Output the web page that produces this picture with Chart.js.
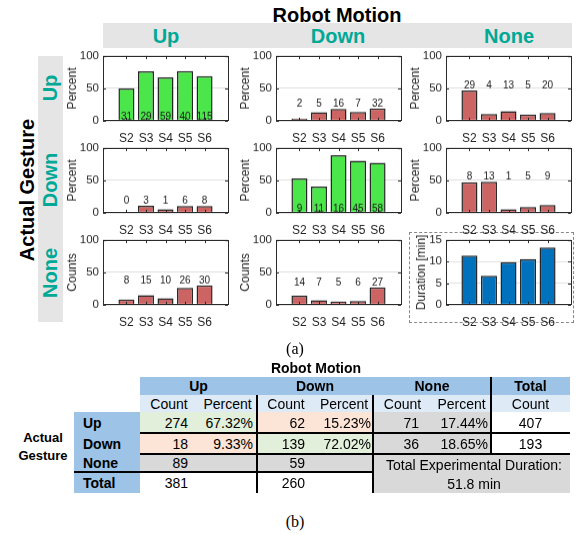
<!DOCTYPE html>
<html>
<head>
<meta charset="utf-8">
<script src="https://cdn.jsdelivr.net/npm/chart.js@4.4.1/dist/chart.umd.min.js"></script>
<style>
  body { margin: 0; width: 576px; height: 535px; background: #fff; position: relative; overflow: hidden;
         font-family: 'Liberation Sans', Arial, sans-serif; color: #000; }
  .abs { position: absolute; }
  .txt { position: absolute; white-space: nowrap; transform: translate(-50%, -50%); }
  canvas { position: absolute; }
</style>
</head>
<body>
<script>
// ---- data ----
const sessions = ['S2', 'S3', 'S4', 'S5', 'S6'];
const sessionNums = [2, 3, 4, 5, 6];
const motions = ['Up', 'Down', 'None'];

// percent of each actual gesture per session (rows: actual gesture, cols: robot motion)
const upUpPct = [50.0, 76.3, 67.0, 76.9, 68.9];
const upUpN = [31, 29, 59, 40, 115];
const upDownPct = [3.2, 13.2, 18.2, 13.5, 19.2];
const upDownN = [2, 5, 16, 7, 32];
const upNonePct = [46.8, 10.5, 14.8, 9.6, 12.0];
const upNoneN = [29, 4, 13, 5, 20];

const downUpPct = [0, 11.1, 5.6, 10.7, 10.7];
const downUpN = [0, 3, 1, 6, 8];
const downDownPct = [52.9, 40.7, 88.9, 80.4, 77.3];
const downDownN = [9, 11, 16, 45, 58];
const downNonePct = [47.1, 48.1, 5.6, 8.9, 12.0];
const downNoneN = [8, 13, 1, 5, 9];

const noneUpN = [8, 15, 10, 26, 30];
const noneDownN = [14, 7, 5, 6, 27];
const durationMin = [11.4, 6.7, 9.9, 10.6, 13.3];

// summary table
const tblUpCount = [274, 62, 71];
const tblUpPct = ['67.32%', '15.23%', '17.44%'];
const tblUpTotal = 407;
const tblDownCount = [18, 139, 36];
const tblDownPct = ['9.33%', '72.02%', '18.65%'];
const tblDownTotal = 193;
const tblNoneCount = [89, 59];
const tblTotalCount = [381, 260];
const totalDuration = '51.8 min';

// ---- style ----
const GREEN = '#4ae64a';
const RED = '#cc6464';
const BLUE = '#0072bd';
const TEAL = '#00a896';
const AXIS = '#262626';

Chart.defaults.font.family = "'Liberation Sans', Arial, sans-serif";
Chart.defaults.color = AXIS;

function text(str, cx, cy, style, rot) {
  const d = document.createElement('div');
  d.className = 'txt';
  d.textContent = str;
  d.style.left = cx + 'px';
  d.style.top = cy + 'px';
  d.style.cssText += style || '';
  if (rot) d.style.transform = 'translate(-50%, -50%) rotate(-90deg)';
  document.body.appendChild(d);
  return d;
}
function rect(x, y, w, h, style) {
  const d = document.createElement('div');
  d.className = 'abs';
  d.style.cssText += `left:${x}px;top:${y}px;width:${w}px;height:${h}px;` + style;
  document.body.appendChild(d);
  return d;
}

// ---- figure (a) frame ----
rect(103, 23, 469, 25, 'background:#e5e5e5');
rect(38, 56, 25, 266, 'background:#e5e5e5');
rect(409, 232, 165, 91, 'border:1.5px dashed #888;box-sizing:border-box');
text('Robot Motion', 337, 15, 'font-weight:bold;font-size:20px');
text('Actual Gesture', 27, 190, 'font-weight:bold;font-size:20px', true);

const colLeft = [103, 276, 446];
const rowTop = [56, 148, 240];
const BOX_W = 125, BOX_H = 65;
const headCx = [166, 338, 509];
const rowCy = [88, 180, 273];
motions.forEach((m, i) => {
  text(m, headCx[i], 36, `font-weight:bold;font-size:20px;color:${TEAL}`);
  text(m, 50, rowCy[i], `font-weight:bold;font-size:20px;color:${TEAL}`, true);
});

// small inward ticks on all four sides, like the original axes
const tickPlugin = {
  id: 'tickPlugin',
  afterDatasetsDraw(chart) {
    const { ctx, chartArea: a, scales: { x, y } } = chart;
    ctx.save();
    ctx.strokeStyle = AXIS;
    ctx.lineWidth = 1;
    ctx.beginPath();
    x.ticks.forEach(t => {
      const px = Math.round(x.getPixelForValue(t.value)) + 0.5;
      ctx.moveTo(px, a.top); ctx.lineTo(px, a.top + 3);
      ctx.moveTo(px, a.bottom); ctx.lineTo(px, a.bottom - 3);
    });
    y.ticks.forEach(t => {
      const py = Math.round(y.getPixelForValue(t.value)) + 0.5;
      ctx.moveTo(a.left, py); ctx.lineTo(a.left + 3, py);
      ctx.moveTo(a.right, py); ctx.lineTo(a.right - 3, py);
    });
    ctx.stroke();
    ctx.restore();
  }
};

// count labels above (or inside) the bars
const barLabels = {
  id: 'barLabels',
  afterDatasetsDraw(chart, args, opts) {
    if (!opts.counts) return;
    const { ctx, scales: { x, y } } = chart;
    const vals = chart.data.datasets[0].data.map(d => d.y);
    const at = opts.inside ? 6 : Math.max(...vals) + 7.5;
    ctx.save();
    ctx.font = "10px 'Liberation Sans', Arial, sans-serif";
    ctx.fillStyle = '#1a1a1a';
    ctx.textAlign = 'center';
    ctx.textBaseline = 'middle';
    opts.counts.forEach((c, i) => ctx.fillText(String(c), x.getPixelForValue(sessionNums[i]), y.getPixelForValue(at)));
    ctx.restore();
  }
};

const panels = [
  { r: 0, c: 0, v: upUpPct, n: upUpN, color: GREEN, inside: true, title: 'Percent', max: 100, step: 25 },
  { r: 0, c: 1, v: upDownPct, n: upDownN, color: RED, title: 'Percent', max: 100, step: 25 },
  { r: 0, c: 2, v: upNonePct, n: upNoneN, color: RED, title: 'Percent', max: 100, step: 25 },
  { r: 1, c: 0, v: downUpPct, n: downUpN, color: RED, title: 'Percent', max: 100, step: 25 },
  { r: 1, c: 1, v: downDownPct, n: downDownN, color: GREEN, inside: true, title: 'Percent', max: 100, step: 25 },
  { r: 1, c: 2, v: downNonePct, n: downNoneN, color: RED, title: 'Percent', max: 100, step: 25 },
  { r: 2, c: 0, v: noneUpN, n: noneUpN, color: RED, title: 'Counts', max: 100, step: 25 },
  { r: 2, c: 1, v: noneDownN, n: noneDownN, color: RED, title: 'Counts', max: 100, step: 25 },
  { r: 2, c: 2, v: durationMin, n: null, color: BLUE, title: 'Duration [min]', max: 15, step: 5, titlePad: 13 },
];

const AX_W = 45, AX_H = 22, PAD_R = 8;

function makeChart(cv, p) {
  return new Chart(cv.getContext('2d'), {
    type: 'bar',
    data: {
      datasets: [{
        data: p.v.map((y, i) => ({ x: sessionNums[i], y })),
        backgroundColor: p.color,
        borderColor: '#262626',
        borderWidth: 1.5,
        barPercentage: 0.82,
        categoryPercentage: 1,
      }]
    },
    options: {
      responsive: false,
      maintainAspectRatio: false,
      animation: false,
      events: [],
      layout: { padding: { left: 0, top: 2, right: PAD_R, bottom: 0 } },
      plugins: {
        legend: { display: false },
        tooltip: { enabled: false },
        barLabels: { counts: p.n, inside: !!p.inside },
      },
      scales: {
        x: {
          type: 'linear',
          offset: false,
          min: 0.8, max: 7.2,
          afterBuildTicks: s => { s.ticks = sessionNums.map(v => ({ value: v })); },
          afterFit: s => { s.height = AX_H; },
          grid: { display: false },
          border: { display: false },
          ticks: { callback: v => sessions[sessionNums.indexOf(v)], color: AXIS, font: { size: 12 }, padding: 2, maxRotation: 0, autoSkip: false },
        },
        y: {
          min: 0, max: p.max,
          afterFit: s => { s.width = AX_W; },
          grid: { color: '#e0e0e0', drawTicks: false },
          border: { display: false },
          ticks: { stepSize: p.step, color: AXIS, font: { size: 11.5 }, padding: 4 },
          title: { display: true, text: p.title, color: AXIS, font: { size: 12 }, padding: { top: p.titlePad || 7, bottom: 0 } },
        }
      }
    },
    plugins: [tickPlugin, barLabels]
  });
}

panels.forEach(p => {
  const cv = document.createElement('canvas');
  const w = BOX_W + AX_W + PAD_R;
  let h = BOX_H + AX_H + 10;
  cv.width = w; cv.height = h;
  document.body.appendChild(cv);
  let chart = makeChart(cv, p);
  // make the plot area exactly BOX_H tall, then line it up with the grid
  const diff = BOX_H - (chart.chartArea.bottom - chart.chartArea.top);
  if (Math.abs(diff) > 0.1) {
    chart.destroy();
    h += diff;
    cv.width = w; cv.height = h;
    cv.style.width = w + 'px'; cv.style.height = h + 'px';
    chart = makeChart(cv, p);
  }
  const a = chart.chartArea;
  cv.style.left = (colLeft[p.c] - a.left) + 'px';
  cv.style.top = (rowTop[p.r] - a.top) + 'px';
  // axes box on top of the plot area
  rect(colLeft[p.c] - 0.5, rowTop[p.r] - 0.5, a.right - a.left + 1, a.bottom - a.top + 1,
       'border:1.5px solid #2b2b2b;box-sizing:border-box');
});

text('(a)', 295, 349, "font-family:'Liberation Serif','Times New Roman',serif;font-size:16px");

// ---- table (b) ----
const colX = [74, 140, 198, 257, 315, 373, 432, 491, 570];
const rowY = [377, 395, 412, 433, 454, 472, 493];
const F = 'font-size:14px;';
const LBLUE = '#deebf7', MBLUE = '#9dc3e6', LGREEN = '#e2efda', LORANGE = '#fce4d6', LGRAY = '#d9d9d9';

text('Robot Motion', 316, 368, 'font-weight:bold;' + F);
rect(colX[1], rowY[0], colX[8] - colX[1], rowY[1] - rowY[0], 'background:' + MBLUE);
rect(colX[1], rowY[1], colX[8] - colX[1], rowY[2] - rowY[1], 'background:' + LBLUE);
rect(colX[0], rowY[2], colX[1] - colX[0], rowY[6] - rowY[2], 'background:' + MBLUE);
// cell fills: correct matches green, confusions orange, None gray
rect(colX[1], rowY[2], colX[3] - colX[1], rowY[3] - rowY[2], 'background:' + LGREEN);
rect(colX[3], rowY[2], colX[5] - colX[3], rowY[3] - rowY[2], 'background:' + LORANGE);
rect(colX[1], rowY[3], colX[3] - colX[1], rowY[4] - rowY[3], 'background:' + LORANGE);
rect(colX[3], rowY[3], colX[5] - colX[3], rowY[4] - rowY[3], 'background:' + LGREEN);
rect(colX[5], rowY[2], colX[7] - colX[5], rowY[4] - rowY[2], 'background:' + LGRAY);
rect(colX[1], rowY[4], colX[5] - colX[1], rowY[5] - rowY[4], 'background:' + LGRAY);
rect(colX[5], rowY[4], colX[8] - colX[5], rowY[6] - rowY[4], 'background:' + LGRAY);

// black rules
rect(colX[3] - 1, rowY[1], 1.5, rowY[6] - rowY[1], 'background:#000');
rect(colX[5] - 1, rowY[1], 1.5, rowY[6] - rowY[1], 'background:#000');
rect(colX[7] - 1, rowY[0], 1.5, rowY[4] - rowY[0], 'background:#000');
rect(colX[1], rowY[3] - 1, colX[8] - colX[1], 1.5, 'background:#000');
rect(colX[1], rowY[4] - 1, colX[8] - colX[1], 1.5, 'background:#000');
rect(colX[0], rowY[5] - 1, colX[5] - colX[0], 1.5, 'background:#000');

const mid = (a, b) => (a + b) / 2;
motions.forEach((m, i) => {
  text(m, mid(colX[1 + 2 * i], colX[3 + 2 * i]), mid(rowY[0], rowY[1]), 'font-weight:bold;' + F);
  text('Count', mid(colX[1 + 2 * i], colX[2 + 2 * i]), mid(rowY[1], rowY[2]), F);
  text('Percent', mid(colX[2 + 2 * i], colX[3 + 2 * i]), mid(rowY[1], rowY[2]), F);
});
text('Total', mid(colX[7], colX[8]), mid(rowY[0], rowY[1]), 'font-weight:bold;' + F);
text('Count', mid(colX[7], colX[8]), mid(rowY[1], rowY[2]), F);

function rtext(str, right, cy, style) {
  const d = document.createElement('div');
  d.className = 'abs';
  d.textContent = str;
  d.style.cssText += `right:${576 - right}px;top:${cy}px;transform:translateY(-50%);white-space:nowrap;` + style;
  document.body.appendChild(d);
}
function ltext(str, left, cy, style) {
  const d = document.createElement('div');
  d.className = 'abs';
  d.textContent = str;
  d.style.cssText += `left:${left}px;top:${cy}px;transform:translateY(-50%);white-space:nowrap;` + style;
  document.body.appendChild(d);
}

const gestRows = ['Up', 'Down', 'None', 'Total'];
gestRows.forEach((g, i) => ltext(g, 83, mid(rowY[2 + i], rowY[3 + i]), 'font-weight:bold;' + F));
text('Actual', 43, 437, 'font-weight:bold;font-size:13px');
text('Gesture', 43, 455, 'font-weight:bold;font-size:13px');

const countRight = [188, 305, 419];
const pctRight = [253, 371, 488];
[[tblUpCount, tblUpPct, tblUpTotal], [tblDownCount, tblDownPct, tblDownTotal]].forEach(([cnt, pct, tot], r) => {
  const cy = mid(rowY[2 + r], rowY[3 + r]);
  cnt.forEach((c, i) => rtext(String(c), countRight[i], cy, F));
  pct.forEach((c, i) => rtext(c, pctRight[i], cy, F));
  text(String(tot), mid(colX[7], colX[8]), cy, F);
});
tblNoneCount.forEach((c, i) => rtext(String(c), countRight[i], mid(rowY[4], rowY[5]), F));
tblTotalCount.forEach((c, i) => rtext(String(c), countRight[i], mid(rowY[5], rowY[6]), F));
text('Total Experimental Duration:', 474, 465, F);
text(totalDuration, 474, 484, F);

text('(b)', 295, 522, "font-family:'Liberation Serif','Times New Roman',serif;font-size:16px");
</script>
</body>
</html>
